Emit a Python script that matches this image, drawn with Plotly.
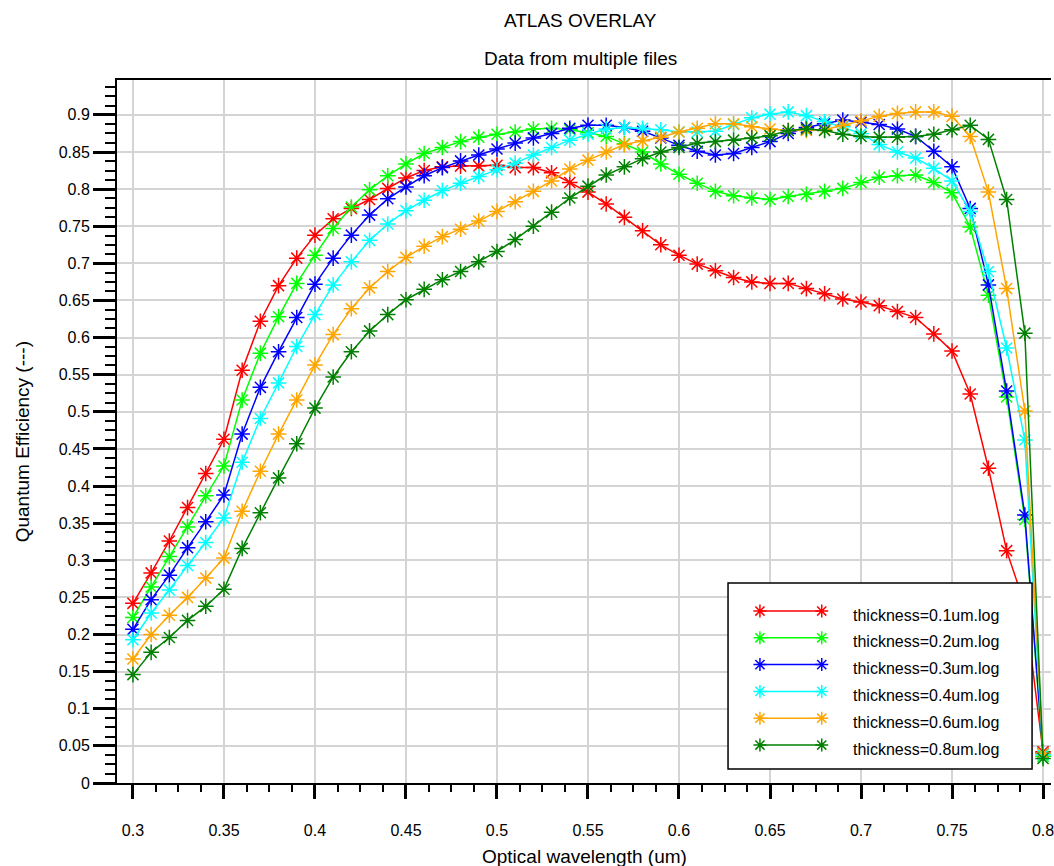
import plotly.graph_objects as go

# ---------------- data ----------------
wavelength = [0.30, 0.31, 0.32, 0.33, 0.34, 0.35, 0.36, 0.37, 0.38, 0.39,
              0.40, 0.41, 0.42, 0.43, 0.44, 0.45, 0.46, 0.47, 0.48, 0.49,
              0.50, 0.51, 0.52, 0.53, 0.54, 0.55, 0.56, 0.57, 0.58, 0.59,
              0.60, 0.61, 0.62, 0.63, 0.64, 0.65, 0.66, 0.67, 0.68, 0.69,
              0.70, 0.71, 0.72, 0.73, 0.74, 0.75, 0.76, 0.77, 0.78, 0.79,
              0.80]

qe_t01 = [0.242, 0.283, 0.326, 0.371, 0.417, 0.463, 0.556, 0.622, 0.670, 0.707,
          0.738, 0.760, 0.774, 0.786, 0.801, 0.815, 0.825, 0.830, 0.831, 0.831,
          0.832, 0.829, 0.829, 0.822, 0.809, 0.796, 0.780, 0.762, 0.744, 0.725,
          0.711, 0.699, 0.690, 0.681, 0.675, 0.673, 0.673, 0.666, 0.659, 0.652,
          0.648, 0.643, 0.635, 0.627, 0.605, 0.582, 0.524, 0.424, 0.313, 0.240,
          0.042]

qe_t02 = [0.223, 0.264, 0.305, 0.345, 0.387, 0.427, 0.516, 0.579, 0.628, 0.673,
          0.711, 0.747, 0.776, 0.799, 0.818, 0.834, 0.848, 0.856, 0.864, 0.870,
          0.874, 0.877, 0.881, 0.882, 0.880, 0.876, 0.871, 0.861, 0.850, 0.834,
          0.820, 0.808, 0.797, 0.791, 0.788, 0.786, 0.790, 0.793, 0.797, 0.801,
          0.809, 0.816, 0.818, 0.819, 0.809, 0.795, 0.749, 0.657, 0.520, 0.355,
          0.036]

qe_t03 = [0.207, 0.247, 0.280, 0.317, 0.352, 0.388, 0.470, 0.533, 0.581, 0.627,
          0.672, 0.707, 0.738, 0.765, 0.787, 0.803, 0.818, 0.829, 0.838, 0.846,
          0.854, 0.862, 0.869, 0.875, 0.882, 0.886, 0.886, 0.883, 0.878, 0.869,
          0.859, 0.851, 0.846, 0.848, 0.856, 0.864, 0.875, 0.883, 0.888, 0.893,
          0.890, 0.887, 0.881, 0.871, 0.851, 0.830, 0.774, 0.671, 0.528, 0.361,
          0.040]

qe_t04 = [0.193, 0.229, 0.260, 0.293, 0.324, 0.357, 0.432, 0.491, 0.539, 0.588,
          0.631, 0.671, 0.702, 0.731, 0.753, 0.771, 0.785, 0.798, 0.808, 0.817,
          0.826, 0.835, 0.846, 0.856, 0.866, 0.874, 0.881, 0.883, 0.882, 0.880,
          0.877, 0.877, 0.878, 0.887, 0.896, 0.901, 0.904, 0.899, 0.891, 0.884,
          0.875, 0.860, 0.850, 0.842, 0.828, 0.811, 0.770, 0.689, 0.586, 0.462,
          0.038]

qe_t06 = [0.167, 0.200, 0.226, 0.250, 0.276, 0.303, 0.366, 0.420, 0.470, 0.516,
          0.563, 0.604, 0.639, 0.667, 0.689, 0.708, 0.723, 0.736, 0.746, 0.757,
          0.770, 0.783, 0.797, 0.811, 0.827, 0.839, 0.850, 0.860, 0.865, 0.870,
          0.877, 0.882, 0.888, 0.888, 0.884, 0.881, 0.879, 0.879, 0.880, 0.886,
          0.892, 0.898, 0.902, 0.904, 0.904, 0.898, 0.871, 0.796, 0.666, 0.501,
          0.040]

qe_t08 = [0.146, 0.176, 0.196, 0.219, 0.238, 0.261, 0.316, 0.364, 0.411, 0.457,
          0.505, 0.547, 0.581, 0.609, 0.631, 0.651, 0.665, 0.678, 0.689, 0.702,
          0.716, 0.732, 0.750, 0.769, 0.788, 0.804, 0.819, 0.830, 0.841, 0.850,
          0.856, 0.862, 0.864, 0.866, 0.869, 0.872, 0.879, 0.881, 0.879, 0.874,
          0.871, 0.870, 0.870, 0.871, 0.874, 0.880, 0.886, 0.867, 0.786, 0.606,
          0.033]

series_names = ["thickness=0.1um.log", "thickness=0.2um.log", "thickness=0.3um.log",
                "thickness=0.4um.log", "thickness=0.6um.log", "thickness=0.8um.log"]
series_values = [qe_t01, qe_t02, qe_t03, qe_t04, qe_t06, qe_t08]
series_colors = ["#FF0000", "#00FF00", "#0000FF", "#00FFFF", "#FFA500", "#008000"]

title_text = "ATLAS OVERLAY"
subtitle_text = "Data from multiple files"
x_title = "Optical wavelength (um)"
y_title = "Quantum Efficiency (---)"

# ---------------- layout constants (pixels) ----------------
W, H = 1054, 866
ML, MR, MT, MB = 117, 0, 80, 83
PW, PH = W - ML - MR, H - MT - MB
FONT = "Liberation Sans, Arial, sans-serif"


def px(xp):
    return (xp - ML) / PW


def py(yp):
    return (H - MB - yp) / PH


fig = go.Figure()
for name, ys, col in zip(series_names, series_values, series_colors):
    fig.add_trace(go.Scatter(
        x=wavelength, y=ys, mode="lines+markers", name=name, showlegend=False,
        line=dict(color=col, width=1.5),
        marker=dict(symbol="asterisk-open", size=13, color=col,
                    line=dict(color=col, width=1.5)),
    ))

# ---------------- custom legend (box, lines, asterisks, text) ----------------
shapes = []
annotations = []
box_l, box_r, box_t, box_b = 730, 1035, 583, 769
shapes.append(dict(type="rect", xref="paper", yref="paper", layer="above",
                   x0=px(box_l), x1=px(box_r), y0=py(box_b), y1=py(box_t),
                   fillcolor="white", line=dict(color="black", width=1.5)))
row0, row_step = 611, 26.8
sym_x0, sym_x1, text_x = 762, 824, 853
r = 6.5
rx, ry = r / PW, r / PH
dx, dy = rx * 0.707, ry * 0.707
for i, (name, col) in enumerate(zip(series_names, series_colors)):
    yy = row0 + i * row_step
    yp = py(yy)
    shapes.append(dict(type="line", xref="paper", yref="paper", layer="above",
                       x0=px(sym_x0), x1=px(sym_x1), y0=yp, y1=yp,
                       line=dict(color=col, width=1.5)))
    for sx in (sym_x0, sym_x1):
        xp = px(sx)
        path = (f"M{xp - rx},{yp} L{xp + rx},{yp} "
                f"M{xp},{yp - ry} L{xp},{yp + ry} "
                f"M{xp - dx},{yp - dy} L{xp + dx},{yp + dy} "
                f"M{xp - dx},{yp + dy} L{xp + dx},{yp - dy}")
        shapes.append(dict(type="path", xref="paper", yref="paper", layer="above",
                           path=path, line=dict(color=col, width=1.5)))
    annotations.append(dict(text=name, xref="paper", yref="paper",
                            x=px(text_x), y=py(yy + 4), xanchor="left", yanchor="middle",
                            showarrow=False, font=dict(family=FONT, size=16, color="black")))

# titles
annotations.append(dict(text=title_text, xref="paper", yref="paper", x=0.496, y=py(20),
                        xanchor="center", yanchor="middle", showarrow=False,
                        font=dict(family=FONT, size=19, color="black")))
annotations.append(dict(text=subtitle_text, xref="paper", yref="paper", x=0.496, y=py(59),
                        xanchor="center", yanchor="middle", showarrow=False,
                        font=dict(family=FONT, size=19, color="black")))
annotations.append(dict(text=x_title, xref="paper", yref="paper", x=0.5, y=py(856),
                        xanchor="center", yanchor="middle", showarrow=False,
                        font=dict(family=FONT, size=19, color="black")))
annotations.append(dict(text=y_title, xref="paper", yref="paper", x=px(22), y=py(442),
                        xanchor="center", yanchor="middle", showarrow=False, textangle=-90,
                        font=dict(family=FONT, size=19, color="black")))

fig.update_layout(
    width=W, height=H,
    margin=dict(l=ML, r=MR, t=MT, b=MB, pad=0),
    paper_bgcolor="white", plot_bgcolor="white",
    font=dict(family=FONT, size=16, color="black"),
    showlegend=False,
    shapes=shapes, annotations=annotations,
    xaxis=dict(
        range=[0.29124, 0.80438], tick0=0.3, dtick=0.05,
        ticks="outside", ticklen=14, tickwidth=2.5, tickcolor="black",
        showgrid=True, gridcolor="#D4D4D4", gridwidth=1.5,
        showline=True, linecolor="black", linewidth=2, mirror=True,
        zeroline=False, tickfont=dict(size=16), ticklabelstandoff=18,
        ticklabeloverflow="allow",
        minor=dict(tick0=0.3, dtick=0.0125, ticks="outside", ticklen=7,
                   tickwidth=2, tickcolor="black", showgrid=False),
    ),
    yaxis=dict(
        range=[0, 0.947], tick0=0, dtick=0.05,
        ticks="outside", ticklen=22, tickwidth=2.5, tickcolor="black",
        showgrid=True, gridcolor="#D4D4D4", gridwidth=1.5,
        showline=True, linecolor="black", linewidth=2,
        zeroline=False, tickfont=dict(size=16),
        minor=dict(tick0=0, dtick=0.0125, ticks="outside", ticklen=10,
                   tickwidth=2, tickcolor="black", showgrid=False),
    ),
)

fig.write_html("out.html",
               config={"displayModeBar": False},
               post_script="document.body.style.margin='0';"
                           "document.body.style.overflow='hidden';")
